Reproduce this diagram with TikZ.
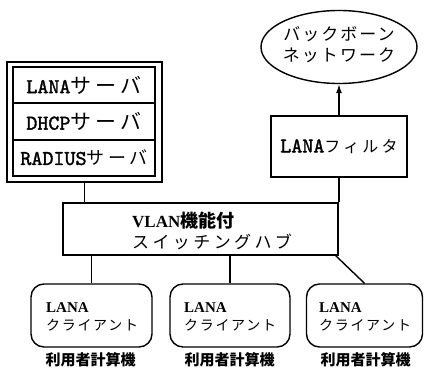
\documentclass[tikz,border=0pt]{standalone}
\usepackage{fontspec}
\setmainfont{Liberation Serif}
\newfontfamily\jp{Noto Sans CJK JP}
\newfontfamily\jpa[LetterSpace=20]{Noto Sans CJK JP}
\newfontfamily\jpb[LetterSpace=12]{Noto Sans CJK JP}
\newfontfamily\mono[FakeBold=1.6]{lmmono10-regular.otf}
\newcommand{\fsz}[1]{\fontsize{#1}{#1}\selectfont}
\usetikzlibrary{shapes.geometric,arrows.meta}
\begin{document}
\begin{tikzpicture}[x=1pt,y=-1pt,
  box/.style={draw,line width=1.4pt,inner sep=0pt},
  cli/.style={draw,line width=1.4pt,rounded corners=13pt,inner sep=0pt,minimum height=63pt},
  conn/.style={line width=1.4pt},
  txt/.style={inner sep=0pt}]
\useasboundingbox (0,0) rectangle (424,369);
% server stack
\node[box,minimum width=155pt,minimum height=120pt] (srvout) at (84.5,122) {};
\node[box,minimum width=142pt,minimum height=36pt] (srv1) at (84,85)
  {\fsz{21}\mono LANA\jpa サーバ};
\node[box,minimum width=142pt,minimum height=37pt] (srv2) at (84,121.5)
  {\fsz{21}\mono DHCP\jpa サーバ};
\node[box,minimum width=142pt,minimum height=36pt] (srv3) at (84,158)
  {\fsz{21}\mono RADIUS\fsz{18}\jpa サーバ};
% backbone
\node[draw,ellipse,line width=1.4pt,minimum width=156pt,minimum height=73pt,inner sep=0pt] (bb) at (339,47) {};
\node[txt,align=center] (bbt) at (339,45) {\fsz{17}\jpb バックボーン\\[5pt]\fsz{17}\jpb ネットワーク};
% filter
\node[box,minimum width=136pt,minimum height=61pt] (flt) at (339,146.5)
  {\fsz{21}\mono LANA\fsz{16}\jpa フィルタ};
% vlan hub
\node[box,minimum width=275pt,minimum height=52pt] (vlan) at (200.5,229) {};
\node[txt,anchor=west,align=left] (vlant) at (132,231)
  {\fsz{17}\bfseries VLAN{\fsz{18}\jp 機能付}\\[3pt]\fsz{17}\jpa\mdseries スイッチングハブ};
% clients
\node[cli,minimum width=121pt] (c1) at (91.5,315.5) {};
\node[cli,minimum width=120pt] (c2) at (230,315.5) {};
\node[cli,minimum width=116pt] (c3) at (364.5,315.5) {};
\node[txt,anchor=west,align=left] (c1t) at (46,317) {\fsz{15}\bfseries LANA\\[6pt]\fsz{14}\jpb\mdseries クライアント};
\node[txt,anchor=west,align=left] (c2t) at (184,317) {\fsz{15}\bfseries LANA\\[6pt]\fsz{14}\jpb\mdseries クライアント};
\node[txt,anchor=west,align=left] (c3t) at (319,317) {\fsz{15}\bfseries LANA\\[6pt]\fsz{14}\jpb\mdseries クライアント};
\node[txt] (l1) at (90.5,360) {\fsz{15}\jp\bfseries 利用者計算機};
\node[txt] (l2) at (229.5,360) {\fsz{15}\jp\bfseries 利用者計算機};
\node[txt] (l3) at (365.5,360) {\fsz{15}\jp\bfseries 利用者計算機};
% connectors
\draw[conn] (srvout.south) -- (srvout.south |- vlan.north);
\draw[conn] (flt.south) -- (flt.south |- vlan.north);
\draw[conn,-{Latex[length=9pt,width=6pt]}] (flt.north) -- (bb.south);
\draw[conn] (c1.north) -- (c1.north |- vlan.south);
\draw[conn] (c2.north) -- (c2.north |- vlan.south);
\coordinate (d3) at (335,255);
\draw[conn] (d3) -- (c3.north);
\end{tikzpicture}
\end{document}
